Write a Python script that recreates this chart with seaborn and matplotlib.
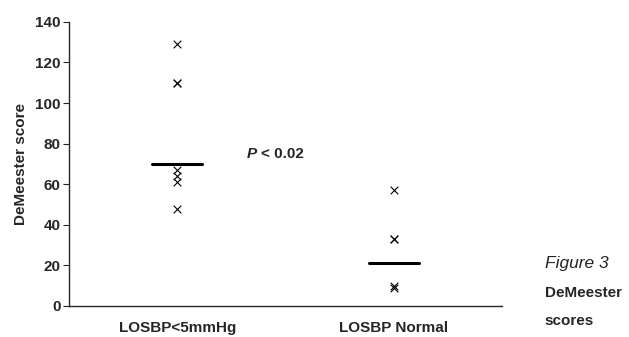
import matplotlib
matplotlib.use("Agg")
import matplotlib.pyplot as plt
import seaborn as sns
import pandas as pd

# values
groups = ["LOSBP<5mmHg", "LOSBP Normal"]
low_scores = [129, 110, 110, 67, 64, 61, 48]
normal_scores = [57, 33, 33, 10, 9]
group_means = [70, 21]
yticks = [0, 20, 40, 60, 80, 100, 120, 140]

df = pd.DataFrame({
    "group": [groups[0]] * len(low_scores) + [groups[1]] * len(normal_scores),
    "score": low_scores + normal_scores,
})

sns.set_style("ticks")
plt.rcParams['font.family'] = ['Liberation Sans', 'DejaVu Sans']

fig = plt.figure(figsize=(6.29, 3.37), dpi=100)
ax = fig.add_axes([0.11, 0.092, 0.688, 0.843])

sns.stripplot(data=df, x="group", y="score", order=groups, jitter=False,
              marker="x", color="black", size=5.5, linewidth=0.8, ax=ax)

# mean bars
for i, m in enumerate(group_means):
    ax.plot([i - 0.115, i + 0.115], [m, m], color="black", lw=2.2)

ax.set_xlim(-0.5, 1.5)
ax.set_ylim(0, 140)
ax.set_yticks(yticks)
ax.set_yticklabels([str(t) for t in yticks], fontweight="bold", fontsize=11)
ax.set_xticks([0, 1])
ax.set_xticklabels(groups, fontweight="bold", fontsize=11)
ax.tick_params(axis="x", length=0, pad=11)
ax.tick_params(axis="y", length=4, width=0.8, pad=2)
ax.set_xlabel("")
ax.set_ylabel("DeMeester score", fontweight="bold", fontsize=11, labelpad=5)
for side in ["top", "right"]:
    ax.spines[side].set_visible(False)
for side in ["left", "bottom"]:
    ax.spines[side].set_linewidth(1.0)

ax.text(0.32, 75, "P", fontweight="bold", style="italic", fontsize=11,
        ha="left", va="center")
ax.text(0.385, 75, "< 0.02", fontweight="bold", fontsize=11,
        ha="left", va="center")

fig.text(0.866, 0.205, "Figure 3", fontsize=12.5, style="italic", color="#222222",
         va="baseline")
fig.text(0.866, 0.12, "DeMeester", fontsize=11, fontweight="bold", va="baseline")
fig.text(0.866, 0.036, "scores", fontsize=11, fontweight="bold", va="baseline")

fig.savefig("out.png", dpi=100)
